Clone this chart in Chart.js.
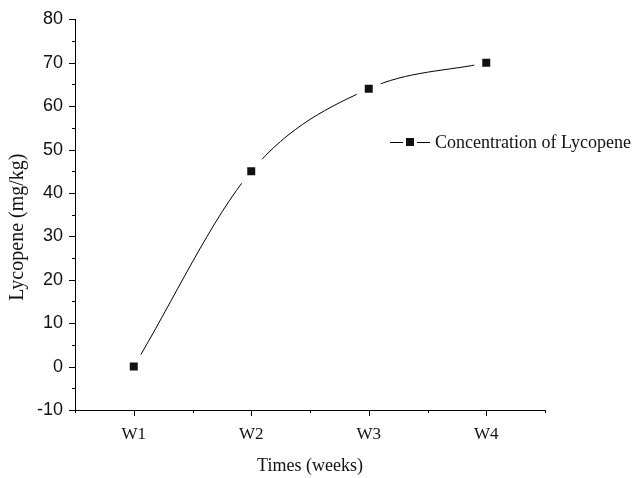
<!DOCTYPE html>
<html>
<head>
<meta charset="utf-8">
<script src="https://cdn.jsdelivr.net/npm/chart.js@4/dist/chart.umd.min.js"></script>
<style>
  body { margin: 0; background: #fff; }
</style>
</head>
<body>
<canvas id="chart" width="635" height="478"></canvas>
<script>
// data
const weeks = ['W1', 'W2', 'W3', 'W4'];
const lycopene = [0, 45, 64, 70];
const yMin = -10;
const yMax = 80;
const yStep = 10;

const serif = '"Liberation Serif", "Times New Roman", serif';
const sans = '"Liberation Sans", Arial, sans-serif';

// Origin-style outward ticks (major + minor)
const axisTicks = {
    id: 'axisTicks',
    afterDraw(chart) {
        const { ctx, chartArea, scales: { x, y } } = chart;
        ctx.save();
        ctx.strokeStyle = '#000';
        ctx.lineWidth = 1;
        ctx.beginPath();
        for (let v = yMin; v <= yMax; v += yStep / 2) {
            const py = Math.round(y.getPixelForValue(v)) + 0.5;
            const len = v % yStep === 0 ? 6 : 3;
            ctx.moveTo(chartArea.left, py);
            ctx.lineTo(chartArea.left - len, py);
        }
        for (let i = 0; i <= weeks.length; i++) {
            // category positions get the long tick, boundaries the short one
            if (i < weeks.length) {
                const px = Math.round(x.getPixelForValue(i)) + 0.5;
                ctx.moveTo(px, chartArea.bottom);
                ctx.lineTo(px, chartArea.bottom + 6);
            }
            const pb = Math.round(x.getPixelForValue(i - 0.5)) + 0.5;
            ctx.moveTo(pb, chartArea.bottom);
            ctx.lineTo(pb, chartArea.bottom + 3);
        }
        ctx.stroke();
        ctx.restore();
    }
};

// legend sitting inside the plot, right side
const innerLegend = {
    id: 'innerLegend',
    afterDraw(chart) {
        const { ctx } = chart;
        const ds = chart.data.datasets[0];
        const lx = 390, ly = 142;
        ctx.save();
        ctx.strokeStyle = '#000';
        ctx.lineWidth = 1;
        ctx.beginPath();
        ctx.moveTo(lx, ly + 0.5);
        ctx.lineTo(lx + 13, ly + 0.5);
        ctx.moveTo(lx + 27, ly + 0.5);
        ctx.lineTo(lx + 40, ly + 0.5);
        ctx.stroke();
        ctx.fillStyle = '#111';
        ctx.fillRect(lx + 16, ly - 4, 8, 8);
        ctx.font = '18px ' + serif;
        ctx.textBaseline = 'middle';
        ctx.textAlign = 'left';
        ctx.fillText(ds.label, lx + 45, ly + 1);
        ctx.restore();
    }
};

new Chart(document.getElementById('chart'), {
    type: 'line',
    data: {
        labels: weeks,
        datasets: [{
            label: 'Concentration of Lycopene',
            data: lycopene,
            borderColor: '#000',
            borderWidth: 1,
            cubicInterpolationMode: 'monotone',
            pointStyle: 'rect',
            pointRadius: 11.3,
            pointHoverRadius: 11.3,
            pointBackgroundColor: '#111',
            pointBorderColor: '#fff',   // white halo gives the gap round each marker
            pointBorderWidth: 8,
            fill: false
        }]
    },
    options: {
        responsive: false,
        animation: false,
        layout: {
            padding: { left: 0, top: 19, right: 90, bottom: 0 }
        },
        scales: {
            x: {
                offset: true,
                grid: { display: false },
                border: { display: true, color: '#000', width: 1 },
                ticks: {
                    color: '#111',
                    padding: 6,
                    font: { family: serif, size: 17 }
                },
                title: {
                    display: true,
                    text: 'Times (weeks)',
                    color: '#111',
                    padding: { top: 0, bottom: 1 },
                    font: { family: serif, size: 18, lineHeight: 1.2 }
                },
                afterFit(scale) { scale.height = 68; }
            },
            y: {
                min: yMin,
                max: yMax,
                grid: { display: false },
                border: { display: true, color: '#000', width: 1 },
                ticks: {
                    stepSize: yStep,
                    color: '#111',
                    padding: 4,
                    font: { family: sans, size: 18 }
                },
                title: {
                    display: true,
                    // trailing spaces push the title a little below the plot centre, as in the original
                    text: 'Lycopene (mg/kg)     ',
                    color: '#111',
                    padding: { top: 6, bottom: 0 },
                    font: { family: serif, size: 20, lineHeight: 1.2 }
                },
                afterFit(scale) { scale.width = 75; }
            }
        },
        plugins: {
            legend: { display: false },
            tooltip: { enabled: false }
        }
    },
    plugins: [axisTicks, innerLegend]
});
</script>
</body>
</html>
